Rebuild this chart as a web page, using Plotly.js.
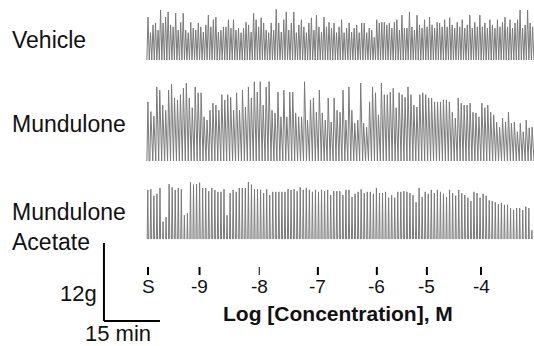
<!DOCTYPE html>
<html>
<head>
<meta charset="utf-8">
<script src="https://cdn.plot.ly/plotly-3.0.1.min.js"></script>
<style>html,body{margin:0;padding:0;background:#fff;}#chart{width:534px;height:346px;}</style>
</head>
<body>
<div id="chart"></div>
<script>
// ---- Data (contraction peak force, g; time in minutes) ----
const vehiclePeaks = [6.6,4.2,5.4,5.7,4.6,7.7,5.7,6.6,7.4,5.4,5.1,7.2,4.6,5.8,7.2,4.6,4.2,5.8,4.9,4.6,5.7,5.1,4.3,5.4,6.9,5.1,6.2,6.6,4.3,4.6,5.1,5.1,6.2,4.9,6.2,4.6,4.9,4.2,4.9,5.8,5.4,4.3,7.2,6.2,5.1,6.5,5.7,4.6,4.2,5.7,4.6,7.8,5.7,4.3,6.2,7.4,4.6,5.7,7.4,4.2,5.4,6.2,5.1,4.2,5.7,6.5,4.6,6.9,5.1,4.3,6.6,5.1,5.8,4.9,5.7,
  4.2,5.1,6.2,4.2,4.9,5.7,4.3,4.9,5.4,4.2,5.7,5.7,4.2,4.9,4.6,3.5,6.2,5.7,5.8,5.8,5.4,5.7,4.9,5.8,6.2,4.6,6.9,4.9,4.9,7.4,5.1,4.6,6.9,5.4,4.9,6.2,5.1,6.6,5.4,4.9,5.8,5.7,5.1,6.2,5.1,6.5,5.4,4.9,5.8,5.1,6.2,4.9,5.4,6.9,4.9,5.8,5.1,6.9,5.1,5.7,4.9,6.2,5.4,4.9,6.2,5.1,5.8,6.6,5.1,6.2,4.9,5.7,6.2,7.7,4.9,5.4,7.7,5.7,5.1];
const mundulonePeaks = [9.1,7.6,6.9,11.4,10.9,8.6,7.8,10.9,11.8,9.7,9.4,10.2,11.2,12.0,9.7,8.2,11.4,10.5,10.5,6.8,6.3,7.8,8.9,8.6,7.8,10.2,9.4,10.2,9.8,7.8,10.5,7.8,10.9,8.3,11.4,9.7,12.2,10.6,12.2,8.6,11.4,12.2,7.8,7.4,10.6,6.8,10.9,6.8,10.6,10.6,7.4,6.8,6.8,12.2,6.3,9.4,9.7,7.5,10.9,
  7.4,6.3,9.7,6.0,9.7,7.8,7.5,10.9,6.3,11.4,7.8,5.8,6.3,12.0,5.8,5.2,9.1,11.4,10.5,7.1,12.0,10.2,10.2,10.6,11.2,8.2,10.5,10.2,9.8,11.4,10.2,8.6,8.3,10.2,10.5,10.2,9.7,9.7,9.1,9.1,9.1,9.4,9.4,9.1,7.5,6.6,9.7,8.9,8.6,8.6,8.9,7.5,7.4,6.8,8.9,8.2,8.6,7.5,7.1,6.0,5.2,6.6,6.0,7.5,5.8,6.0,4.5,5.8,4.5,6.3,5.1,5.2];
const acetatePeaks = [11.4,11.5,10.5,10.8,11.7,6.5,7.2,12.3,11.8,11.4,11.7,11.5,7.5,7.8,12.6,12.2,12.3,12.5,11.7,11.7,11.2,11.7,11.4,11.1,11.1,11.5,7.5,10.9,11.4,11.1,11.7,11.7,11.7,12.6,12.2,11.5,11.5,11.4,10.9,11.5,10.6,11.1,11.1,11.1,11.1,11.1,11.5,11.4,11.5,11.2,11.8,11.4,11.7,11.4,11.1,11.4,
  11.1,11.4,11.2,11.4,10.6,11.2,11.2,11.2,10.6,11.4,11.4,10.3,10.8,11.1,11.5,10.9,11.1,11.1,10.8,11.7,10.9,10.9,11.1,10.2,10.6,10.2,11.1,11.1,11.2,11.1,10.9,10.6,9.5,11.7,10.3,11.1,10.8,11.4,10.9,11.4,11.1,10.8,10.3,11.4,10.9,10.5,11.4,10.9,10.6,10.2,9.7,11.1,10.9,10.2,10.8,10.5,9.8,9.7,9.5,9.2,9.4,9.1,9.1,8.6,8.3,8.6,8.6,8.3,8.8,8.6,5.2];
const recordStart = -0.3;   // min, relative to S
const recordEnd = 103.4;    // min
const doseTimes = [0, 13.8, 29.8, 45.5, 61.3, 74.7, 89.2];
const doseLabels = ['S', '-9', '-8', '-7', '-6', '-5', '-4'];
const traceNames = ['Vehicle', 'Mundulone', 'Mundulone<br>Acetate'];
const scaleBarG = 12;
const scaleBarMin = 15;

// ---- Layout helpers (pixel geometry) ----
const W = 534, H = 346;
const pxPerMin = 56 / 15;
const pxPerG = 6.5;
const x0px = 148;
const xRange = [-x0px / pxPerMin, (W - x0px) / pxPerMin];
const py = p => (H - p) / H;
function yAxisAt(basePx, gLo, gHi) {
  const bottom = basePx - gLo * pxPerG, top = basePx - gHi * pxPerG;
  return {domain: [py(bottom), py(top)], range: [gLo, gHi], visible: false, anchor: 'x', fixedrange: true};
}
function wave(peaks, rise, fall) {
  const P = (recordEnd - recordStart) / peaks.length;
  const xs = [], ys = [];
  peaks.forEach((h, i) => {
    const t = recordStart + i * P;
    xs.push(t, t + rise * P, t + fall * P);
    ys.push(0, h, 0);
  });
  xs.push(recordEnd); ys.push(0);
  return {x: xs, y: ys};
}
const font = 'Liberation Sans, Arial, Helvetica, sans-serif';
const lineCol = '#7a7a7a';

const wv = wave(vehiclePeaks, 0.45, 0.95);
const wm = wave(mundulonePeaks, 0.35, 0.75);
const wa = wave(acetatePeaks, 0.3, 0.6);

const data = [
  {x: wv.x, y: wv.y, xaxis: 'x', yaxis: 'y', mode: 'lines', line: {color: lineCol, width: 1}, hoverinfo: 'skip'},
  {x: wm.x, y: wm.y, xaxis: 'x', yaxis: 'y2', mode: 'lines', line: {color: lineCol, width: 1}, hoverinfo: 'skip'},
  {x: wa.x, y: wa.y, xaxis: 'x', yaxis: 'y3', mode: 'lines', line: {color: lineCol, width: 1}, hoverinfo: 'skip'}
];

const sbX = -11.8;
const shapes = [
  {type: 'line', xref: 'x', yref: 'y4', x0: sbX, x1: sbX, y0: 0, y1: scaleBarG, line: {color: '#000', width: 2}},
  {type: 'line', xref: 'x', yref: 'y4', x0: sbX, x1: sbX + scaleBarMin, y0: 0, y1: 0, line: {color: '#000', width: 2}}
];
const annotations = [
  {text: traceNames[0], xref: 'paper', yref: 'paper', x: 10 / W, y: py(40), xanchor: 'left', yanchor: 'middle', showarrow: false, align: 'left', font: {family: font, size: 23, color: '#111'}},
  {text: traceNames[1], xref: 'paper', yref: 'paper', x: 10 / W, y: py(124), xanchor: 'left', yanchor: 'middle', showarrow: false, align: 'left', font: {family: font, size: 23, color: '#111'}},
  {text: traceNames[2], xref: 'paper', yref: 'paper', x: 10 / W, y: py(227), xanchor: 'left', yanchor: 'middle', showarrow: false, align: 'left', font: {family: font, size: 23, color: '#111'}},
  {text: scaleBarG + 'g', xref: 'x', yref: 'paper', x: sbX, xshift: -5, y: py(293), xanchor: 'right', yanchor: 'middle', showarrow: false, font: {family: font, size: 22, color: '#111'}},
  {text: scaleBarMin + ' min', xref: 'x', yref: 'paper', x: sbX + scaleBarMin / 2, xshift: -14, y: py(333), xanchor: 'center', yanchor: 'middle', showarrow: false, borderpad: 0, font: {family: font, size: 22, color: '#111'}},
  {text: '<b>Log [Concentration], M</b>', xref: 'paper', yref: 'paper', x: 338 / W, y: py(313), xanchor: 'center', yanchor: 'middle', showarrow: false, font: {family: font, size: 21, color: '#111'}}
];
// dose-addition ticks and labels on the time scale
doseTimes.forEach((t, i) => {
  shapes.push({type: 'line', xref: 'x', yref: 'paper', x0: t, x1: t, y0: py(275), y1: py(267),
    line: {color: '#000', width: doseLabels[i] === '-8' ? 1 : 2}});
  annotations.push({text: doseLabels[i], xref: 'x', yref: 'paper', x: t, y: py(286), xanchor: 'center', yanchor: 'middle',
    showarrow: false, font: {family: font, size: 19, color: '#111'}});
});

const layout = {
  width: W, height: H,
  margin: {l: 0, r: 0, t: 0, b: 0},
  paper_bgcolor: '#fff', plot_bgcolor: '#fff',
  showlegend: false,
  font: {family: font, color: '#111'},
  xaxis: {range: xRange, domain: [0, 1], anchor: 'y3', visible: false, fixedrange: true},
  yaxis: yAxisAt(60, -0.5, 9),
  yaxis2: yAxisAt(161, -0.5, 12.6),
  yaxis3: yAxisAt(264, -0.5, 12.9),
  yaxis4: yAxisAt(321, -0.5, 12.6),
  shapes: shapes,
  annotations: annotations
};

Plotly.newPlot('chart', data, layout, {staticPlot: true, displayModeBar: false});
</script>
</body>
</html>
